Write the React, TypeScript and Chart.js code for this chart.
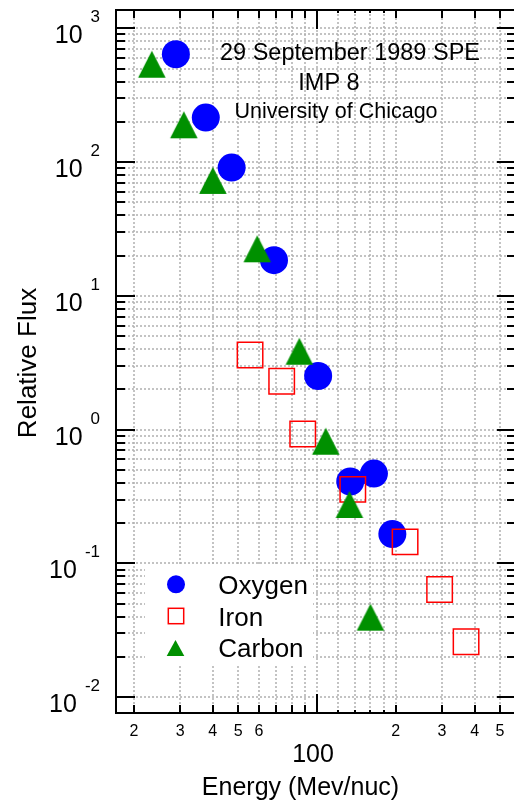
import React, { useEffect, useRef } from 'react';
import { Chart, registerables } from 'chart.js';

Chart.register(...registerables);

// ---- data ----
const seriesNames = ['Oxygen', 'Iron', 'Carbon'];

const energyOxygen = [28.9, 37.6, 47.2, 68.5, 101, 134, 165, 194];
const fluxOxygen = [640, 215, 91, 18.5, 2.52, 0.41, 0.47, 0.166];

const energyIron = [55.5, 73.3, 88.2, 137, 217, 294, 371];
const fluxIron = [3.62, 2.3, 0.93, 0.358, 0.145, 0.064, 0.026];

const energyCarbon = [23.4, 31.0, 40.0, 59.1, 85.6, 108, 133, 160];
const fluxCarbon = [539, 190, 73, 22.5, 3.86, 0.82, 0.276, 0.0397];

// ---- axes ----
const xMin = 17.07;
const xMax = 575.6;
const yMin = 0.00763;
const yMax = 1370;

const yDecadeExponents = [-2, -1, 0, 1, 2, 3];
const yMinorMultipliers = [2, 3, 4, 5, 6, 7, 8, 9];
const xMajorTicks = [100];
const xMediumTicks = [20, 30, 40, 50, 60, 70, 80, 90, 200, 300, 400, 500];
const xSmallTicks = [120, 140, 160, 180];
const xTickLabelValues = [20, 30, 40, 50, 60, 200, 300, 400, 500];
const xTickLabelTexts = ['2', '3', '4', '5', '6', '2', '3', '4', '5'];
const xMajorLabel = '100';

const titleLines = ['29 September 1989 SPE', 'IMP 8', 'University of Chicago'];
const xTitle = 'Energy (Mev/nuc)';
const yTitle = 'Relative Flux';

const FONT = '"Liberation Sans", Arial, Helvetica, sans-serif';
const BLUE = '#0000ff';
const RED = '#ff0000';
const GREEN = '#009000';
const GRID = '#b0b0b0';

const yMajorValues = yDecadeExponents.map((e) => Math.pow(10, e));
const yMinorValues: number[] = [];
yDecadeExponents.slice(0, -1).forEach((e) => {
  yMinorMultipliers.forEach((m) => yMinorValues.push(parseFloat((m * Math.pow(10, e)).toPrecision(6))));
});
const yGridValues = [...yMajorValues, ...yMinorValues].sort((a, b) => a - b);
const xGridValues = [...xMajorTicks, ...xMediumTicks, ...xSmallTicks].sort((a, b) => a - b);

function makeTriangle(w: number, h: number, color: string) {
  const c = document.createElement('canvas');
  c.width = Math.ceil(w) + 2;
  c.height = Math.ceil(h) + 2;
  const g = c.getContext('2d')!;
  g.fillStyle = color;
  g.beginPath();
  g.moveTo(c.width / 2, 1);
  g.lineTo(c.width / 2 + w / 2, 1 + h);
  g.lineTo(c.width / 2 - w / 2, 1 + h);
  g.closePath();
  g.fill();
  return c;
}

const framePlugin = {
  id: 'frameDecor',
  beforeDatasetsDraw(chart: any) {
    const { ctx, chartArea: ca, scales } = chart;
    const xs = scales.x;
    const ys = scales.y;
    ctx.save();
    // dotted grid
    ctx.strokeStyle = GRID;
    ctx.lineWidth = 1.5;
    ctx.setLineDash([2, 2]);
    xGridValues.forEach((v) => {
      const x = Math.round(xs.getPixelForValue(v));
      ctx.beginPath();
      ctx.moveTo(x, ca.top);
      ctx.lineTo(x, ca.bottom);
      ctx.stroke();
    });
    yGridValues.forEach((v) => {
      const y = Math.round(ys.getPixelForValue(v));
      ctx.beginPath();
      ctx.moveTo(ca.left, y);
      ctx.lineTo(ca.right, y);
      ctx.stroke();
    });
    ctx.setLineDash([]);
    // legend background
    ctx.fillStyle = '#ffffff';
    ctx.fillRect(145, 565, 168, 101);
    ctx.restore();
  },
  afterDraw(chart: any) {
    const { ctx, chartArea: ca, scales } = chart;
    const xs = scales.x;
    const ys = scales.y;
    ctx.save();

    // frame
    ctx.strokeStyle = '#000';
    ctx.lineWidth = 2;
    ctx.strokeRect(ca.left, ca.top, ca.right - ca.left, ca.bottom - ca.top);

    // y ticks (inside, both sides)
    const yTick = (v: number, len: number) => {
      const y = Math.round(ys.getPixelForValue(v));
      ctx.beginPath();
      ctx.moveTo(ca.left, y);
      ctx.lineTo(ca.left + len, y);
      ctx.moveTo(ca.right, y);
      ctx.lineTo(ca.right - len, y);
      ctx.stroke();
    };
    yMajorValues.forEach((v) => yTick(v, 19));
    yMinorValues.forEach((v) => yTick(v, 9));

    // x ticks (inside, top and bottom)
    const xTick = (v: number, len: number) => {
      const x = Math.round(xs.getPixelForValue(v));
      ctx.beginPath();
      ctx.moveTo(x, ca.bottom);
      ctx.lineTo(x, ca.bottom - len);
      ctx.moveTo(x, ca.top);
      ctx.lineTo(x, ca.top + len);
      ctx.stroke();
    };
    xMajorTicks.forEach((v) => xTick(v, 19));
    xMediumTicks.forEach((v) => xTick(v, 8));
    xSmallTicks.forEach((v) => xTick(v, 3));

    ctx.fillStyle = '#000';

    // y tick labels 10^n
    yDecadeExponents.forEach((e) => {
      const y = ys.getPixelForValue(Math.pow(10, e));
      const sup = String(e);
      ctx.font = `17px ${FONT}`;
      const supW = ctx.measureText(sup).width;
      const right = ca.left - 16;
      ctx.textAlign = 'left';
      ctx.textBaseline = 'alphabetic';
      ctx.fillText(sup, right - supW, y - 6);
      ctx.font = `25px ${FONT}`;
      ctx.textAlign = 'right';
      ctx.fillText('10', right - supW - 8, y + 15);
    });

    // x tick labels
    ctx.font = `16px ${FONT}`;
    ctx.textAlign = 'center';
    ctx.textBaseline = 'alphabetic';
    xTickLabelValues.forEach((v, i) => {
      ctx.fillText(xTickLabelTexts[i], xs.getPixelForValue(v), ca.bottom + 23);
    });
    ctx.font = `25px ${FONT}`;
    ctx.fillText(xMajorLabel, xs.getPixelForValue(xMajorTicks[0]) - 4, ca.bottom + 49);

    // axis titles
    ctx.font = `25px ${FONT}`;
    ctx.fillText(xTitle, 300.5, 795);
    ctx.save();
    ctx.font = `26px ${FONT}`;
    ctx.translate(36, 363);
    ctx.rotate(-Math.PI / 2);
    ctx.fillText(yTitle, 0, 0);
    ctx.restore();

    // annotation text
    ctx.font = `23.5px ${FONT}`;
    ctx.fillText(titleLines[0], 350, 59.5);
    ctx.fillText(titleLines[1], 329, 90);
    ctx.font = `21.5px ${FONT}`;
    ctx.fillText(titleLines[2], 336, 117.5);

    // legend
    ctx.fillStyle = BLUE;
    ctx.beginPath();
    ctx.arc(176, 584.3, 9, 0, Math.PI * 2);
    ctx.fill();
    ctx.strokeStyle = RED;
    ctx.lineWidth = 1.5;
    ctx.strokeRect(168.3, 608.3, 15.4, 15.4);
    ctx.fillStyle = GREEN;
    ctx.beginPath();
    ctx.moveTo(175.5, 640);
    ctx.lineTo(184.3, 656);
    ctx.lineTo(166.7, 656);
    ctx.closePath();
    ctx.fill();
    ctx.fillStyle = '#000';
    ctx.font = `26px ${FONT}`;
    ctx.textAlign = 'left';
    ctx.fillText(seriesNames[0], 218.3, 594);
    ctx.fillText(seriesNames[1], 218.3, 626);
    ctx.fillText(seriesNames[2], 218.3, 656.7);

    ctx.restore();
  },
};

export default function App() {
  const ref = useRef<HTMLCanvasElement>(null);

  useEffect(() => {
    const canvas = ref.current!;
    const tri = makeTriangle(27.5, 27, GREEN);
    const chart = new Chart(canvas, {
      type: 'scatter',
      data: {
        datasets: [
          {
            label: seriesNames[0],
            data: energyOxygen.map((x, i) => ({ x, y: fluxOxygen[i] })),
            pointStyle: 'circle',
            pointRadius: 14,
            backgroundColor: BLUE,
            borderWidth: 0,
            order: 2,
          },
          {
            label: seriesNames[1],
            data: energyIron.map((x, i) => ({ x, y: fluxIron[i] })),
            pointStyle: 'rect',
            pointRadius: 18,
            backgroundColor: 'rgba(0,0,0,0)',
            borderColor: RED,
            borderWidth: 1.5,
            order: 1,
          },
          {
            label: seriesNames[2],
            data: energyCarbon.map((x, i) => ({ x, y: fluxCarbon[i] })),
            pointStyle: tri as any,
            backgroundColor: GREEN,
            borderWidth: 0,
            order: 0,
          },
        ],
      },
      options: {
        responsive: false,
        animation: false,
        events: [],
        clip: false,
        layout: { autoPadding: false, padding: { left: 116, top: 10, right: 14, bottom: 88 } },
        plugins: { legend: { display: false }, tooltip: { enabled: false } },
        scales: {
          x: { type: 'logarithmic', display: false, min: xMin, max: xMax },
          y: { type: 'logarithmic', display: false, min: yMin, max: yMax },
        },
      } as any,
      plugins: [framePlugin],
    });
    return () => chart.destroy();
  }, []);

  return (
    <div
      style={{
        position: 'fixed',
        left: 0,
        top: 0,
        width: 514,
        height: 801,
        overflow: 'hidden',
        background: '#fff',
      }}
    >
      <canvas ref={ref} width={530} height={801} style={{ display: 'block' }} />
    </div>
  );
}
